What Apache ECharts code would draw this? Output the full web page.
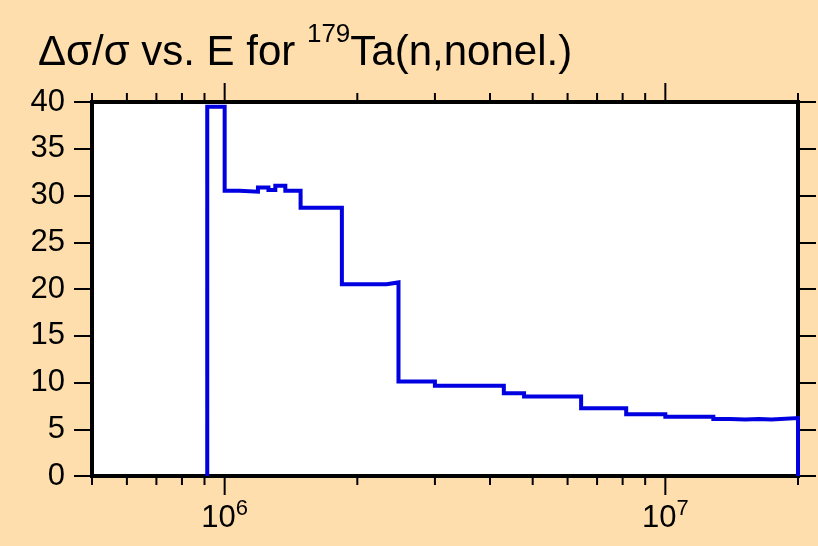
<!DOCTYPE html>
<html>
<head>
<meta charset="utf-8">
<script src="https://cdn.jsdelivr.net/npm/echarts@6/dist/echarts.min.js"></script>
<style>
html,body{margin:0;padding:0;background:#FFDEAD;}
#chart{width:818px;height:546px;}
</style>
</head>
<body>
<div id="chart"></div>
<script>
// Bin edges (energy, eV) and relative uncertainty (%) per bin
var binEdges = [9.13e5, 1.0e6, 1.08e6, 1.19e6, 1.257e6, 1.303e6, 1.373e6, 1.487e6, 1.845e6, 2.33e6, 2.48e6, 3.0e6, 4.3e6, 4.78e6, 6.44e6, 8.15e6, 1.0e7, 1.285e7, 1.4e7, 1.52e7, 1.63e7, 1.74e7, 2.0e7];
var binValues = [39.5, 30.5, 30.4, 30.85, 30.6, 31.05, 30.5, 28.7, 20.5, 20.7, 10.1, 9.65, 8.86, 8.5, 7.25, 6.6, 6.33, 6.1, 6.05, 6.1, 6.05, 6.2];

var xMin = 5e5, xMax = 2e7;
var yMin = 0, yMax = 40, yStep = 5;
var majorTicksX = [1e6, 1e7];
var minorTicksX = [5e5, 6e5, 7e5, 8e5, 9e5, 2e6, 3e6, 4e6, 5e6, 6e6, 7e6, 8e6, 9e6, 2e7];

var FONT = '"Liberation Sans", Arial, Helvetica, sans-serif';

// Build step outline from bins
var stepPts = [[binEdges[0], 0]];
for (var i = 0; i < binValues.length; i++) {
  stepPts.push([binEdges[i], binValues[i]]);
  stepPts.push([binEdges[i + 1], binValues[i]]);
}
stepPts.push([binEdges[binEdges.length - 1], 0]);

var tickData = [];
majorTicksX.forEach(function (v) { tickData.push([v, 1]); });
minorTicksX.forEach(function (v) { tickData.push([v, 0]); });

var chart = echarts.init(document.getElementById('chart'), null, {renderer: 'canvas'});

chart.setOption({
  backgroundColor: '#FFDEAD',
  animation: false,
  title: {
    left: 33,
    top: 17,
    text: '{a|Δσ/σ vs. E for }{s|179}{a|Ta(n,nonel.)}',
    textStyle: {
      fontWeight: 'normal',
      rich: {
        a: {fontFamily: FONT, fontSize: 42, fontWeight: 'normal', color: '#000', lineHeight: 52, verticalAlign: 'bottom'},
        s: {fontFamily: FONT, fontSize: 26, fontWeight: 'normal', color: '#000', lineHeight: 52, verticalAlign: 'top', padding: [0, 0, 17, 0]}
      }
    }
  },
  grid: {
    left: 92, right: 20, top: 102, bottom: 70,
    show: true, backgroundColor: '#ffffff', borderColor: '#000', borderWidth: 4
  },
  xAxis: [{
    type: 'log', logBase: 10, min: xMin, max: xMax,
    axisLine: {show: false},
    axisTick: {show: false},
    splitLine: {show: false},
    axisLabel: {
      margin: 22,
      showMinLabel: false, showMaxLabel: false,
      formatter: function (v) {
        var e = Math.log10(v);
        var r = Math.round(e);
        if (Math.abs(e - r) < 1e-6 && v > xMin * 1.01 && v < xMax * 0.99) {
          return '{b|10}{s|' + r + '}';
        }
        return '';
      },
      rich: {
        b: {fontFamily: FONT, fontSize: 31, color: '#000', lineHeight: 36, verticalAlign: 'bottom'},
        s: {fontFamily: FONT, fontSize: 22, color: '#000', lineHeight: 36, verticalAlign: 'top', padding: [0, 0, 12, 0]}
      }
    }
  }],
  yAxis: [{
    type: 'value', min: yMin, max: yMax, interval: yStep,
    axisLine: {show: false},
    axisTick: {show: true, length: 18, lineStyle: {color: '#000', width: 2}},
    splitLine: {show: false},
    axisLabel: {fontFamily: FONT, fontSize: 31, color: '#000', margin: 27}
  }, {
    type: 'value', min: yMin, max: yMax, interval: yStep, position: 'right',
    axisLine: {show: false},
    axisTick: {show: true, length: 18, lineStyle: {color: '#000', width: 2}},
    splitLine: {show: false},
    axisLabel: {show: false}
  }],
  series: [{
    type: 'line',
    data: stepPts,
    showSymbol: false,
    symbol: 'none',
    lineStyle: {color: '#0000E0', width: 4, join: 'miter'},
    z: 3
  }, {
    type: 'custom',
    data: tickData,
    clip: false,
    silent: true,
    renderItem: function (params, api) {
      var v = api.value(0);
      var major = api.value(1) === 1;
      var len = major ? 19 : 9;
      var b = api.coord([v, yMin]);
      var t = api.coord([v, yMax]);
      var st = {stroke: '#000', lineWidth: 2};
      return {
        type: 'group',
        children: [
          {type: 'line', shape: {x1: b[0], y1: b[1], x2: b[0], y2: b[1] + len}, style: st},
          {type: 'line', shape: {x1: t[0], y1: t[1], x2: t[0], y2: t[1] - len}, style: st}
        ]
      };
    },
    z: 4
  }]
});
</script>
</body>
</html>
